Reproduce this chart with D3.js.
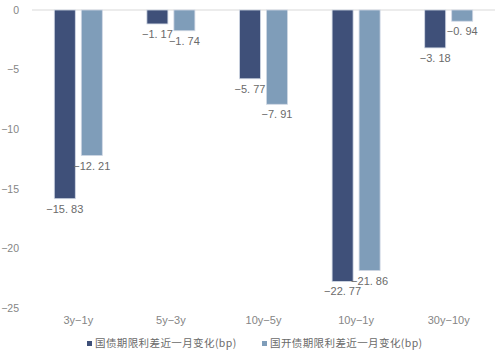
<!DOCTYPE html>
<html>
<head>
<meta charset="utf-8">
<script src="https://cdn.jsdelivr.net/npm/d3@7"></script>
<style>
  body { margin: 0; background: #fff; }
  svg { display: block; }
</style>
</head>
<body>
<svg class="spread-chart" width="495" height="351"></svg>
<script>
// categories + series
const categories = ["3y-1y", "5y-3y", "10y-5y", "10y-1y", "30y-10y"];
const govValues = [-15.83, -1.17, -5.77, -22.77, -3.18];   // 国债
const cdbValues = [-12.21, -1.74, -7.91, -21.86, -0.94];   // 国开债
const seriesNames = ["国债期限利差近一月变化(bp)", "国开债期限利差近一月变化(bp)"];
const yTicks = [0, -5, -10, -15, -20, -25];

const colors = ["#3f5079", "#7f9db9"];
const textColor = "#6a6a6a";
const tickColor = "#858585";

const svg = d3.select(".spread-chart");
const width = 495, height = 351;
const margin = { top: 10, right: 0, bottom: 43, left: 32 };
const chartWidth = width - margin.left - margin.right;
const chartHeight = height - margin.top - margin.bottom;

const g = svg.append("g")
    .attr("transform", `translate(${margin.left},${margin.top})`);

// Scales
const x0 = d3.scaleBand().domain(categories).range([0, chartWidth]).padding(0);
const x1 = d3.scaleBand().domain([0, 1]).range([0, 48]).paddingInner(6 / 27);
const y = d3.scaleLinear().domain([-25, 0]).range([chartHeight, 0]);

// y tick labels (no axis line)
const yAxis = g.append("g")
    .call(d3.axisLeft(y).tickValues(yTicks).tickSize(0).tickPadding(13).tickFormat(d => d === 0 ? "0" : "\u2212" + Math.abs(d)));
yAxis.select(".domain").remove();
yAxis.selectAll("text")
    .attr("fill", tickColor)
    .style("font-family", "'Liberation Sans', Arial, sans-serif")
    .style("font-size", "10.5px");

// zero line
g.append("line")
    .attr("x1", 0).attr("x2", chartWidth)
    .attr("y1", y(0)).attr("y2", y(0))
    .attr("stroke", "#d9d9d9").attr("stroke-width", 1);

// bars
const rows = categories.map((c, i) => ({ cat: c, vals: [govValues[i], cdbValues[i]] }));
const groups = g.selectAll(".cat")
    .data(rows)
    .enter().append("g")
    .attr("transform", d => `translate(${x0(d.cat) + x0.bandwidth() / 2 - 24},0)`);

groups.selectAll("rect")
    .data(d => d.vals.map((v, s) => ({ v, s })))
    .enter().append("rect")
    .attr("x", d => x1(d.s))
    .attr("width", x1.bandwidth())
    .attr("y", y(0))
    .attr("height", d => y(d.v) - y(0))
    .attr("fill", d => colors[d.s])
    .attr("stroke", "#d0d8e4")
    .attr("stroke-width", 0.8);

// value labels under each bar
groups.selectAll("text")
    .data(d => d.vals.map((v, s) => ({ v, s })))
    .enter().append("text")
    .attr("x", d => x1(d.s) + x1.bandwidth() / 2)
    .attr("y", d => y(d.v) + 14)
    .attr("text-anchor", "middle")
    .attr("fill", textColor)
    .style("font-family", "'Liberation Sans', Arial, sans-serif")
    .style("font-size", "11px")
    .text(d => "\u2212" + Math.abs(d.v).toFixed(2).replace(".", ". "));

// category labels
const xAxis = g.append("g")
    .attr("transform", `translate(0,${chartHeight + 8})`)
    .call(d3.axisBottom(x0).tickSize(0).tickPadding(0).tickFormat(d => d.replace("-", "\u2212")));
xAxis.select(".domain").remove();
xAxis.selectAll("text")
    .attr("fill", tickColor)
    .style("font-family", "'Liberation Sans', Arial, sans-serif")
    .style("font-size", "11px");

// legend
const legendX = [87, 262];
const legend = svg.selectAll(".legend")
    .data(seriesNames)
    .enter().append("g")
    .attr("transform", (d, i) => `translate(${legendX[i]},341)`);
legend.append("rect")
    .attr("width", 5).attr("height", 5)
    .attr("fill", (d, i) => colors[i]);
legend.append("text")
    .attr("x", 8).attr("y", 6)
    .attr("fill", textColor)
    .style("font-family", "'Noto Sans CJK SC', sans-serif")
    .style("font-size", "10.5px")
    .style("letter-spacing", "0.4px")
    .text(d => d);
</script>
</body>
</html>
